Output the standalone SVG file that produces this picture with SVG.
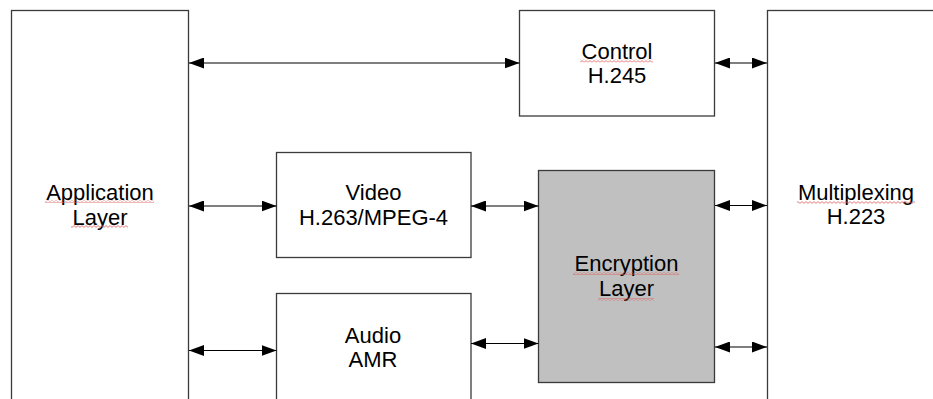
<svg xmlns="http://www.w3.org/2000/svg" width="933" height="399" viewBox="0 0 933 399">
<style>
.box{fill:#ffffff;stroke:#3a3a3a;stroke-width:1.3}
.enc{fill:#c0c0c0;stroke:#3a3a3a;stroke-width:1.3}
.lbl{font-family:"Liberation Sans",Arial,sans-serif;font-size:22px;fill:#000;text-anchor:middle}
.conn{stroke:#000;stroke-width:1.2;fill:none;marker-start:url(#ah);marker-end:url(#ah)}
.sq{fill:url(#wave)}
</style>
<defs>
<marker id="ah" viewBox="0 0 15 11" refX="15" refY="5.5" markerWidth="15" markerHeight="11" markerUnits="userSpaceOnUse" orient="auto-start-reverse">
<path d="M0,0 L15,5.5 L0,11 Z" fill="#000"/>
</marker>
<pattern id="wave" patternUnits="userSpaceOnUse" width="4" height="3">
<path d="M0,2.4 L2,0.6 L4,2.4" fill="none" stroke="#dc5a5a" stroke-width="0.8"/>
</pattern>
</defs>
<rect width="933" height="399" fill="#ffffff"/>
<g id="application">
<rect class="box" x="11.5" y="10.5" width="177" height="400"/>
<text class="lbl" x="100" y="200">Application</text>
<text class="lbl" x="100" y="225">Layer</text>
<rect class="sq" x="45" y="200" width="109" height="3"/>
<rect class="sq" x="71" y="225" width="57" height="3"/>
</g>
<g id="control">
<rect class="box" x="519.5" y="10.5" width="195" height="105.5"/>
<text class="lbl" x="617" y="58.5">Control</text>
<text class="lbl" x="617" y="82.5">H.245</text>
<rect class="sq" x="580" y="59.5" width="73" height="3"/>
</g>
<g id="multiplexing">
<rect class="box" x="767.5" y="10.5" width="200" height="400"/>
<text class="lbl" x="856" y="199.5">Multiplexing</text>
<text class="lbl" x="856" y="224">H.223</text>
<rect class="sq" x="797" y="201" width="118" height="3"/>
</g>
<g id="video">
<rect class="box" x="276.5" y="152.5" width="194.5" height="105"/>
<text class="lbl" x="373.5" y="200">Video</text>
<text class="lbl" x="373.5" y="225">H.263/MPEG-4</text>
</g>
<g id="audio">
<rect class="box" x="276.5" y="293.5" width="194.5" height="120"/>
<text class="lbl" x="373" y="342.5">Audio</text>
<text class="lbl" x="373" y="366.5">AMR</text>
</g>
<g id="encryption">
<rect class="enc" x="538.5" y="170.5" width="176" height="212"/>
<text class="lbl" x="626.5" y="271">Encryption</text>
<text class="lbl" x="626.5" y="296">Layer</text>
<rect class="sq" x="573" y="272" width="106" height="3"/>
<rect class="sq" x="598" y="298" width="56" height="3"/>
</g>
<g id="connectors">
<line class="conn" x1="189" y1="63" x2="519.5" y2="63"/>
<line class="conn" x1="715" y1="63" x2="767" y2="63"/>
<line class="conn" x1="189" y1="206" x2="276.5" y2="206"/>
<line class="conn" x1="471" y1="206" x2="538.5" y2="206"/>
<line class="conn" x1="715" y1="205.5" x2="767" y2="205.5"/>
<line class="conn" x1="189" y1="350.5" x2="276.5" y2="350.5"/>
<line class="conn" x1="471" y1="343.5" x2="538.5" y2="343.5"/>
<line class="conn" x1="715" y1="347" x2="767" y2="347"/>
</g>
</svg>
